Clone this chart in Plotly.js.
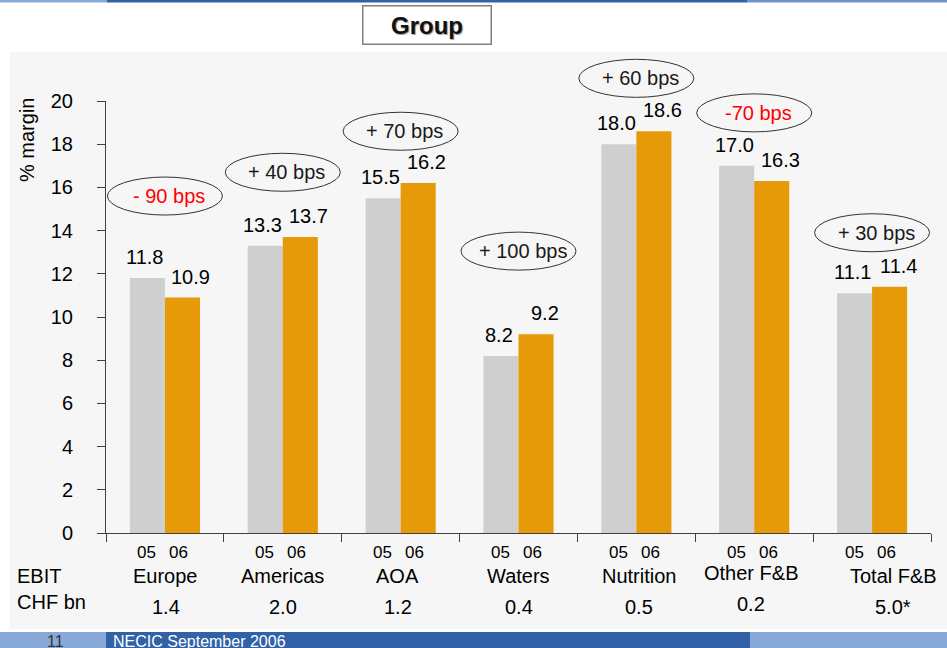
<!DOCTYPE html>
<html>
<head>
<meta charset="utf-8">
<script src="https://cdn.plot.ly/plotly-3.0.1.min.js"></script>
<style>
  html, body { margin: 0; padding: 0; background: #ffffff; }
  #chart { width: 947px; height: 648px; }
</style>
</head>
<body>
<div id="chart"></div>
<script>
// ---- data -------------------------------------------------------------
const categories = ['Europe', 'Americas', 'AOA', 'Waters', 'Nutrition', 'Other F&B', 'Total F&B'];
const margin05 = [11.8, 13.3, 15.5, 8.2, 18.0, 17.0, 11.1];
const margin06 = [10.9, 13.7, 16.2, 9.2, 18.6, 16.3, 11.4];
const changeLabels = ['- 90 bps', '+ 40 bps', '+ 70 bps', '+ 100 bps', '+ 60 bps', '-70 bps', '+ 30 bps'];
const ebitChf = ['1.4', '2.0', '1.2', '0.4', '0.5', '0.2', '5.0*'];
const yearLabels = ['05', '06'];

// ---- layout helpers ---------------------------------------------------
const W = 947, H = 648;
const M = { l: 106, r: 16, t: 101, b: 115, autoexpand: false };
const plotW = W - M.l - M.r, plotH = H - M.t - M.b;
const YMAX = 20;
const px = x => (x - M.l) / plotW;          // page x pixel -> paper
const py = y => (H - M.b - y) / plotH;      // page y pixel -> paper

const FONT = 'Arial, "Liberation Sans", Helvetica, sans-serif';
const GREY = '#cfcfcf', ORANGE = '#e69a08', AXIS = '#404040';

// vertical level (in % margin units) of each change bubble
const bubbleLevel = [15.6, 16.7, 18.6, 13.05, 21.05, 19.45, 13.9];
// small nudges for the category captions under the axis
const captionDx = [1, 0, -3, 0, 3, -3, 21];
const captionRaise = [0, 0, 0, 0, 0, 3, 0];

const traces = [
  { type: 'bar', name: yearLabels[0], x: categories, y: margin05,
    marker: { color: GREY }, hoverinfo: 'skip' },
  { type: 'bar', name: yearLabels[1], x: categories, y: margin06,
    marker: { color: ORANGE }, hoverinfo: 'skip' }
];

const annotations = [];
const shapes = [];

// shaded panel behind the chart
shapes.push({ type: 'rect', xref: 'paper', yref: 'paper', layer: 'below',
  x0: px(10), x1: px(947), y0: py(629), y1: py(52),
  fillcolor: '#f6f6f6', line: { width: 0 } });

// top stripe
shapes.push({ type: 'rect', xref: 'paper', yref: 'paper', x0: px(0), x1: px(107), y0: py(2.5), y1: py(0),
  fillcolor: '#87a9d9', line: { width: 0 } });
shapes.push({ type: 'rect', xref: 'paper', yref: 'paper', x0: px(107), x1: px(747), y0: py(2.5), y1: py(0),
  fillcolor: '#3162a8', line: { width: 0 } });
shapes.push({ type: 'rect', xref: 'paper', yref: 'paper', x0: px(747), x1: px(947), y0: py(2.5), y1: py(0),
  fillcolor: '#6f93c9', line: { width: 0 } });

// footer band
shapes.push({ type: 'rect', xref: 'paper', yref: 'paper', x0: px(0), x1: px(106), y0: py(648), y1: py(632),
  fillcolor: '#87a9d9', line: { width: 0 } });
shapes.push({ type: 'rect', xref: 'paper', yref: 'paper', x0: px(106), x1: px(750), y0: py(648), y1: py(632),
  fillcolor: '#3162a8', line: { width: 0 } });
shapes.push({ type: 'rect', xref: 'paper', yref: 'paper', x0: px(750), x1: px(947), y0: py(648), y1: py(632),
  fillcolor: '#87a9d9', line: { width: 0 } });

annotations.push({ xref: 'paper', yref: 'paper', x: px(55), y: py(641.5), xanchor: 'center', yanchor: 'middle',
  text: '11', showarrow: false, font: { family: FONT, size: 16, color: '#333333' } });
annotations.push({ xref: 'paper', yref: 'paper', x: px(111), y: py(641.5), xanchor: 'left', yanchor: 'middle',
  text: 'NECIC September 2006', showarrow: false, font: { family: FONT, size: 16, color: '#ffffff' } });

// boxed heading
annotations.push({ xref: 'paper', yref: 'paper', x: px(426.5), y: py(24.5), xanchor: 'center', yanchor: 'middle',
  text: '<b>Group</b>', showarrow: false, width: 125, height: 35, borderpad: 1,
  bordercolor: '#7f7f7f', borderwidth: 1.5, bgcolor: '#ffffff',
  font: { family: FONT, size: 24, color: '#111111', shadow: '1px 1px 1px #9a9a9a' } });

// y axis caption
annotations.push({ xref: 'paper', yref: 'paper', x: px(27), y: py(140), xanchor: 'center', yanchor: 'middle',
  text: '% margin', textangle: -90, showarrow: false, font: { family: FONT, size: 20, color: '#000000' } });

// left-hand row headers
annotations.push({ xref: 'paper', yref: 'paper', x: px(15), y: py(576), xanchor: 'left', yanchor: 'middle',
  text: 'EBIT', showarrow: false, font: { family: FONT, size: 20, color: '#000000' } });
annotations.push({ xref: 'paper', yref: 'paper', x: px(15), y: py(602), xanchor: 'left', yanchor: 'middle',
  text: 'CHF bn', showarrow: false, font: { family: FONT, size: 20, color: '#000000' } });

const n = categories.length;
categories.forEach((cat, i) => {
  // value labels on top of the bars
  annotations.push({ x: cat, y: margin05[i], xref: 'x', yref: 'y', yanchor: 'middle', xanchor: 'center',
    xshift: -20, yshift: 21, showarrow: false, text: margin05[i].toFixed(1),
    font: { family: FONT, size: 20, color: '#000000' } });
  annotations.push({ x: cat, y: margin06[i], xref: 'x', yref: 'y', yanchor: 'middle', xanchor: 'center',
    xshift: 26, yshift: 21, showarrow: false, text: margin06[i].toFixed(1),
    font: { family: FONT, size: 20, color: '#000000' } });

  // year labels under each bar pair
  annotations.push({ x: cat, y: 0, xref: 'x', yref: 'paper', yanchor: 'middle', xanchor: 'center',
    xshift: -18, yshift: -19, showarrow: false, text: yearLabels[0],
    font: { family: FONT, size: 17, color: '#000000' } });
  annotations.push({ x: cat, y: 0, xref: 'x', yref: 'paper', yanchor: 'middle', xanchor: 'center',
    xshift: 14, yshift: -19, showarrow: false, text: yearLabels[1],
    font: { family: FONT, size: 17, color: '#000000' } });

  // category name and EBIT amount
  annotations.push({ x: cat, y: 0, xref: 'x', yref: 'paper', yanchor: 'middle', xanchor: 'center',
    xshift: captionDx[i], yshift: -43 + captionRaise[i], showarrow: false, text: cat,
    font: { family: FONT, size: 20, color: '#000000' } });
  annotations.push({ x: cat, y: 0, xref: 'x', yref: 'paper', yanchor: 'middle', xanchor: 'center',
    xshift: captionDx[i], yshift: -74 + captionRaise[i], showarrow: false, text: ebitChf[i],
    font: { family: FONT, size: 20, color: '#000000' } });

  // change bubble
  const cx = (i + 0.5) / n;
  const cy = bubbleLevel[i] / YMAX;
  shapes.push({ type: 'circle', xref: 'paper', yref: 'paper',
    xsizemode: 'pixel', ysizemode: 'pixel', xanchor: cx, yanchor: cy,
    x0: -57.5, x1: 57.5, y0: -19, y1: 19,
    line: { color: '#333333', width: 1 }, fillcolor: 'rgba(0,0,0,0)' });
  const negative = changeLabels[i].trim().startsWith('-');
  annotations.push({ xref: 'paper', yref: 'paper', x: cx, y: cy, xanchor: 'center', yanchor: 'middle',
    xshift: 4, showarrow: false, text: changeLabels[i],
    font: { family: FONT, size: 20, color: negative ? '#ff0000' : '#1a1a1a' } });
});

const layout = {
  width: W, height: H,
  margin: M,
  paper_bgcolor: '#ffffff',
  plot_bgcolor: 'rgba(0,0,0,0)',
  barmode: 'group',
  bargap: 0.405,
  bargroupgap: 0,
  showlegend: false,
  font: { family: FONT, color: '#000000' },
  xaxis: {
    type: 'category',
    range: [-0.5, n - 0.5],
    autorange: false,
    showticklabels: false,
    showgrid: false, zeroline: false,
    showline: true, linecolor: AXIS, linewidth: 1,
    ticks: 'outside', tickson: 'boundaries', ticklen: 8, tickcolor: AXIS, tickwidth: 1
  },
  yaxis: {
    range: [0, YMAX],
    autorange: false,
    dtick: 2, tick0: 0,
    showgrid: false, zeroline: false,
    showline: true, linecolor: AXIS, linewidth: 1,
    ticks: 'outside', ticklen: 8, tickcolor: AXIS, tickwidth: 1,
    ticklabelstandoff: 20,
    tickfont: { family: FONT, size: 20, color: '#000000' }
  },
  shapes: shapes,
  annotations: annotations
};

Plotly.newPlot('chart', traces, layout, { staticPlot: true, displayModeBar: false });
</script>
</body>
</html>
